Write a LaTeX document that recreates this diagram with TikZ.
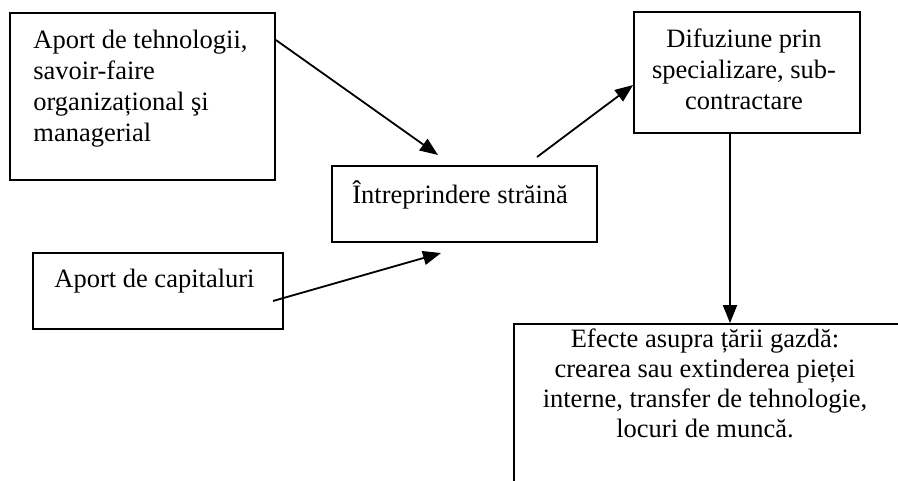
\documentclass[tikz,border=0pt]{standalone}
\usepackage{fontspec}
\setmainfont{Liberation Serif}
\usetikzlibrary{arrows.meta}

\begin{document}
\begin{tikzpicture}[x=0.5pt,y=-0.5pt]
\tikzstyle{box}=[draw,line width=0.9pt,inner sep=0pt]
\tikzstyle{txt}=[inner sep=0pt,font=\fontsize{13.25pt}{15.5pt}\selectfont]
\tikzstyle{conn}=[line width=0.9pt,-{Triangle[length=9pt,width=7pt]}]
\useasboundingbox (0,0) rectangle (898,481);
\clip (0,0) rectangle (898,481);
\node[box,minimum width=132.5pt,minimum height=83.5pt] (B_1) at (142.5,96.5) {};
\node[box,minimum width=132.5pt,minimum height=38pt] (B_2) at (464.5,204) {};
\node[box,minimum width=125pt,minimum height=38pt] (B_3) at (158,291) {};
\node[box,minimum width=113pt,minimum height=60.5pt] (B_4) at (747,72.5) {};
\node[box,minimum width=193pt,minimum height=98pt] (B_5) at (707,422) {};
\node[txt,anchor=base west,align=left] (L_1) at (33,141) {Aport de tehnologii,\\savoir-faire\\organizațional şi\\managerial};
\node[txt,anchor=base west] (L_2) at (352,203) {Întreprindere străină};
\node[txt,anchor=base west] (L_3) at (54,287) {Aport de capitaluri};
\node[txt,anchor=base,align=center] (L_4) at (744,110) {Difuziune prin\\specializare, sub-\\contractare};
\node[txt,anchor=base,align=center,font=\fontsize{13.25pt}{15pt}\selectfont] (L_5) at (705,437) {Efecte asupra țării gazdă:\\crearea sau extinderea pieței\\interne, transfer de tehnologie,\\locuri de muncă.};
\coordinate (P_1) at (438,155);
\coordinate (P_2) at (537,157);
\coordinate (P_3) at (273,301);
\coordinate (P_4) at (441,253);
\draw[conn] (B_1.east |- 0,40) -- (P_1);
\draw[conn] (P_2) -- (B_4.west |- 0,85);
\draw[conn] (P_3) -- (P_4);
\draw[conn] (B_4.south -| 730,0) -- (B_5.north -| 730,0);
\end{tikzpicture}
\end{document}
